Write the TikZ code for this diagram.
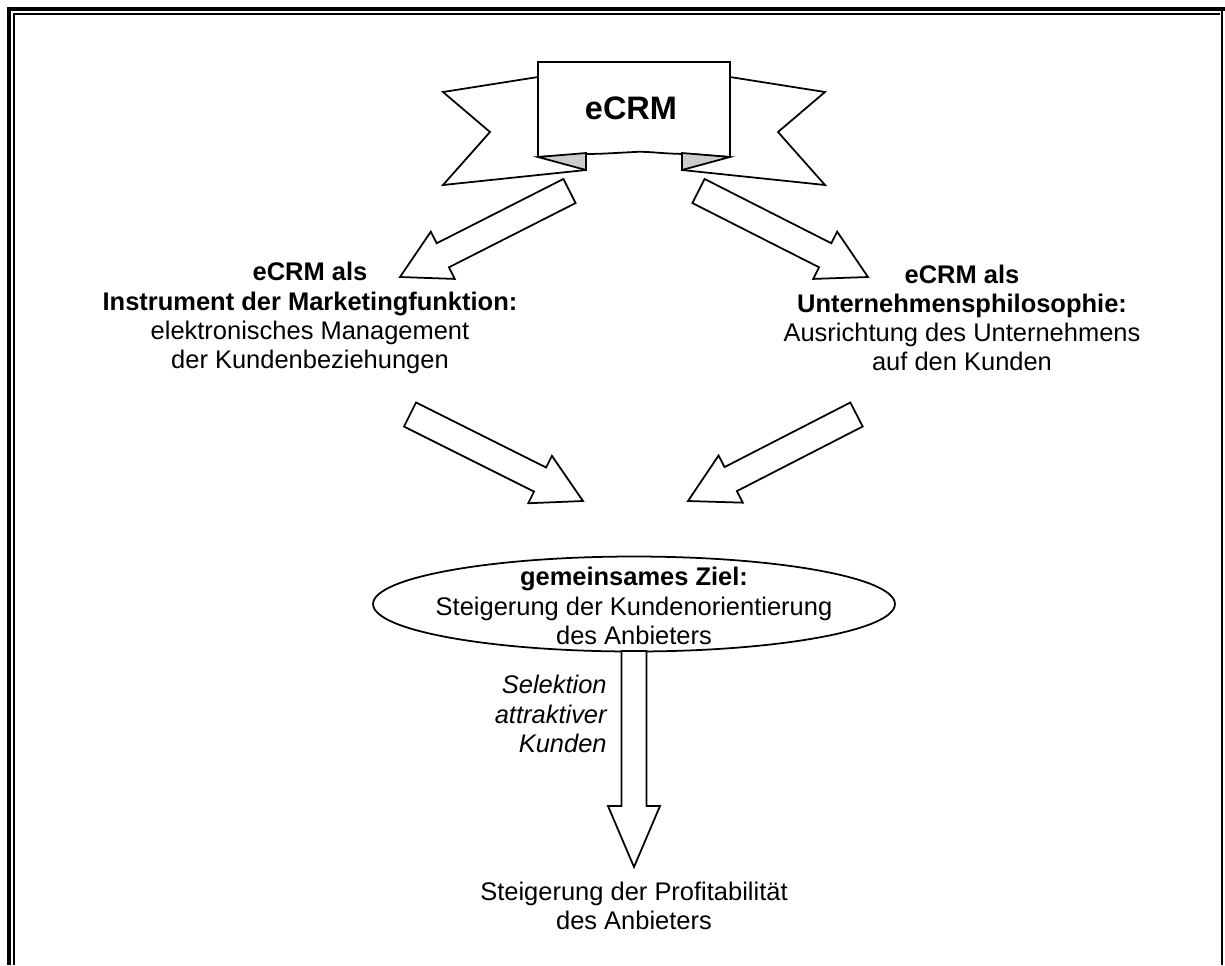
\documentclass[tikz,border=0pt]{standalone}
\usepackage{fontspec}
\setmainfont{Liberation Sans}
\usepackage{tikz}
\usetikzlibrary{shapes.geometric, positioning, calc}
\tikzstyle{outline} = [draw=black, fill=white, line width=1pt, line join=miter]
\tikzstyle{txt} = [align=center, inner sep=0pt, font=\fontsize{14.5pt}{16.6pt}\selectfont]
\tikzstyle{tab} = [draw=black, fill=black!20, line width=1pt, line join=miter]

% block arrow from tail #2 to tip #3, head length #1
\newcommand{\blockarrow}[3][0.96cm]{%
  \path ($(#3)!#1!(#2)$) coordinate (hb);
  \draw[outline] ($(#2)!0.27cm!90:(#3)$) -- ($(hb)!0.27cm!90:(#3)$)
    -- ($(hb)!0.53cm!90:(#3)$) -- (#3) -- ($(hb)!0.53cm!-90:(#3)$)
    -- ($(hb)!0.27cm!-90:(#3)$) -- ($(#2)!0.27cm!-90:(#3)$) -- cycle;
}

\begin{document}
\begin{tikzpicture}[x=0.02cm, y=-0.02cm]
    \useasboundingbox (0,0) rectangle (1225,965);

    % Frame
    \draw[line width=0.08cm] (9,965) -- (9,9) -- (1225,9);
    \draw[line width=0.03cm] (14,965) -- (14,14) -- (1220,14);
    \draw[line width=0.05cm] (1222,11) -- (1222,965);

    % Ribbon
    \draw[outline] (538,77) -- (443,92) -- (490,132) -- (443,185) -- (586,170) -- (586,150) -- (538,150) -- cycle;
    \draw[outline] (730,77) -- (825,92) -- (778,132) -- (825,185) -- (682,170) -- (682,150) -- (730,150) -- cycle;
    \draw[outline] (538,157) -- (538,62) -- (730,62) -- (730,157)
        -- (690,154) .. controls (660,154) and (650,151) .. (634,152)
        .. controls (615,153) and (600,154) .. (586,154) -- (538,157);
    \draw[tab] (538,157) -- (586,153) -- (586,170) -- cycle;
    \draw[tab] (730,157) -- (682,153) -- (682,170) -- cycle;
    \node[txt, font=\fontsize{18.5pt}{20pt}\selectfont\bfseries] (ecrm) at (631,108) {eCRM};

    % Two views
    \node[txt] (instr) at (310,318) {\textbf{eCRM als}\\ \textbf{Instrument der Marketingfunktion:}\\ elektronisches Management\\ der Kundenbeziehungen};
    \node[txt] (philo) at (962,318) {\textbf{eCRM als}\\ \textbf{Unternehmensphilosophie:}\\ Ausrichtung des Unternehmens\\ auf den Kunden};

    % Goal
    \node[draw, ellipse, line width=1pt, minimum width=10.44cm, minimum height=1.9cm, inner sep=0pt] (goal) at (634,604) {};
    \node[txt] (goaltxt) at (634,606) {\textbf{gemeinsames Ziel:}\\ Steigerung der Kundenorientierung\\ des Anbieters};

    \node[txt, align=right, anchor=east, font=\fontsize{14.5pt}{16.6pt}\selectfont\itshape] (sel) at (607,714) {Selektion\\ attraktiver\\ Kunden};
    \node[txt] (profit) at (634,906) {Steigerung der Profitabilität\\ des Anbieters};

    % Arrows
    \coordinate (t1) at (569.5,191);  \coordinate (h1) at (400,277);
    \coordinate (t2) at (698.5,191);  \coordinate (h2) at (868,277);
    \coordinate (t3) at (410,414.5);  \coordinate (h3) at (583,501);
    \coordinate (t4) at (856.5,414.5); \coordinate (h4) at (688,501);
    \coordinate (t5) at (634,651);    \coordinate (h5) at (634,867);
    \blockarrow{t1}{h1}
    \blockarrow{t2}{h2}
    \blockarrow{t3}{h3}
    \blockarrow{t4}{h4}
    \path ($(h5)!1.22cm!(t5)$) coordinate (hb);
    \draw[outline] ($(t5)!0.25cm!90:(h5)$) -- ($(hb)!0.25cm!90:(h5)$)
        -- ($(hb)!0.52cm!90:(h5)$) -- (h5) -- ($(hb)!0.52cm!-90:(h5)$)
        -- ($(hb)!0.25cm!-90:(h5)$) -- ($(t5)!0.25cm!-90:(h5)$) -- cycle;
\end{tikzpicture}
\end{document}
